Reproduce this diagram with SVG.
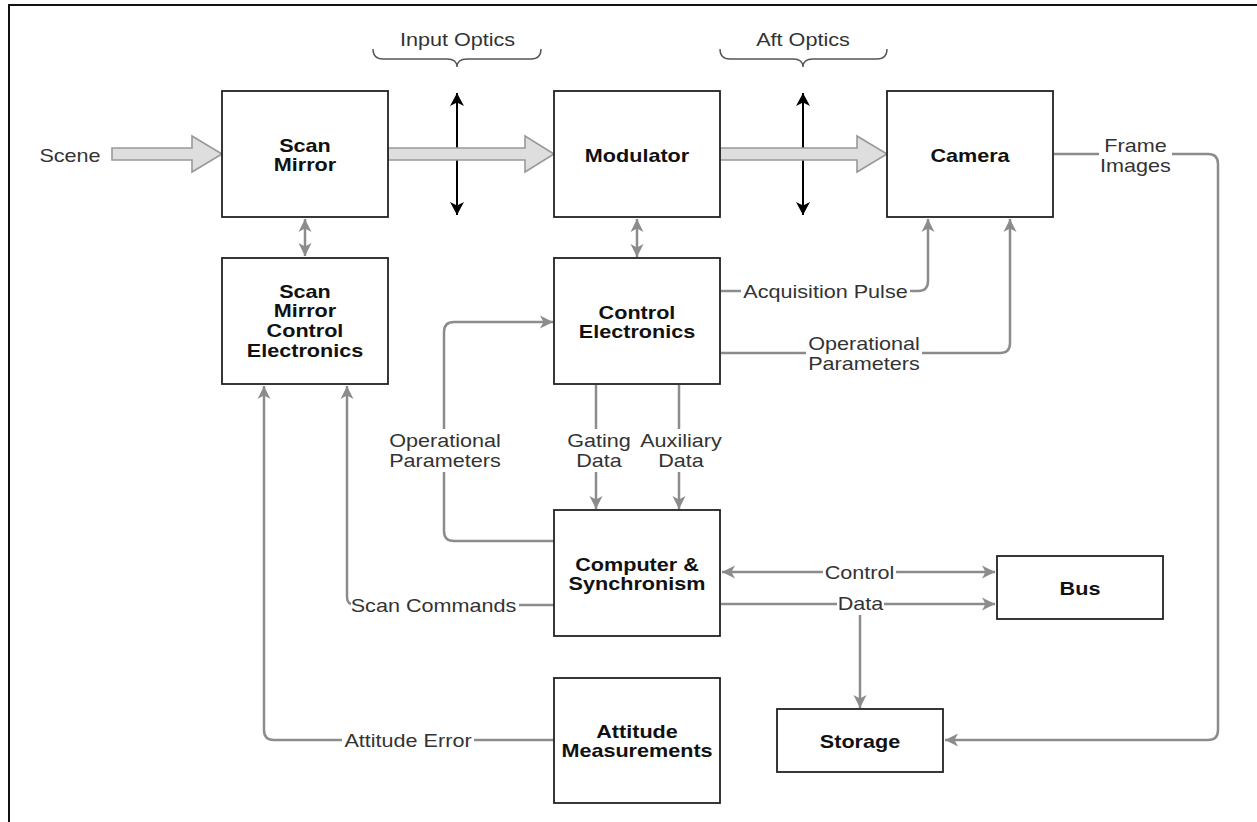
<svg xmlns="http://www.w3.org/2000/svg" width="1257" height="822" viewBox="0 0 1257 822">
<style>
text{font-family:"Liberation Sans",Arial,Helvetica,sans-serif;font-size:18px;text-anchor:middle}
.lbl{fill:#333}
.nt{font-weight:bold;fill:#111}
.box{fill:#fff;stroke:#222;stroke-width:1.8}
.edge{fill:none;stroke:#8c8c8c;stroke-width:2.5}
.wide{fill:#dedede;stroke:#999;stroke-width:1.6}
.lens{fill:none;stroke:#000;stroke-width:2}
.brace{fill:none;stroke:#555;stroke-width:1.4}
</style>
<defs>
<marker id="ga" markerUnits="userSpaceOnUse" markerWidth="16" markerHeight="16" viewBox="0 0 16 16" refX="14" refY="8" orient="auto-start-reverse">
<path d="M1,1.5 L14,8 L1,14.5 L4.5,8 z" fill="#8c8c8c"/>
</marker>
<marker id="ba" markerUnits="userSpaceOnUse" markerWidth="16" markerHeight="16" viewBox="0 0 16 16" refX="14" refY="8" orient="auto-start-reverse">
<path d="M1,1 L14,8 L1,15 L4.5,8 z" fill="#000"/>
</marker>
</defs>
<rect x="0" y="0" width="1257" height="822" fill="#fff"/>
<path d="M9,822 V5 H1257" fill="none" stroke="#111" stroke-width="2"/>

<g id="optics">
<path class="brace" d="M373,49 Q373,59 383,59 H447 Q457,59 457,67 Q457,59 467,59 H531 Q541,59 541,49"/>
<text class="lbl" transform="translate(457.5,45.5) scale(1.2,1)">Input Optics</text>
<path class="brace" d="M720,49 Q720,59 730,59 H793 Q803,59 803,67 Q803,59 813,59 H877 Q887,59 887,49"/>
<text class="lbl" transform="translate(803,45.5) scale(1.2,1)">Aft Optics</text>
<path class="lens" d="M457,93 V215" marker-start="url(#ba)" marker-end="url(#ba)"/>
<path class="lens" d="M803,93 V215" marker-start="url(#ba)" marker-end="url(#ba)"/>
</g>

<g id="scene">
<text class="lbl" transform="translate(70,161.5) scale(1.2,1)">Scene</text>
<polygon class="wide" points="112,148 192,148 192,136 222,154 192,172 192,160 112,160"/>
</g>

<g id="connectors">
<polygon class="wide" points="388,148 525,148 525,136 554,154 525,172 525,160 388,160"/>
<polygon class="wide" points="720,148 857,148 857,136 887,154 857,172 857,160 720,160"/>
<path class="edge" d="M305,219 V256" marker-start="url(#ga)" marker-end="url(#ga)"/>
<path class="edge" d="M637,219 V257" marker-start="url(#ga)" marker-end="url(#ga)"/>
<path class="edge" d="M721,291 H741"/>
<path class="edge" d="M910,291 H918 Q928,291 928,281 V219" marker-end="url(#ga)"/>
<text class="lbl" transform="translate(825.5,297.5) scale(1.2,1)">Acquisition Pulse</text>
<path class="edge" d="M721,353 H806"/>
<path class="edge" d="M922,353 H1000 Q1010,353 1010,343 V219" marker-end="url(#ga)"/>
<text class="lbl" transform="translate(864,350) scale(1.2,1)">Operational<tspan x="0" dy="20">Parameters</tspan></text>
<path class="edge" d="M554,541 H454 Q444,541 444,531 V472"/>
<path class="edge" d="M444,429 V332 Q444,322 454,322 H553" marker-end="url(#ga)"/>
<text class="lbl" transform="translate(445,447) scale(1.2,1)">Operational<tspan x="0" dy="20">Parameters</tspan></text>
<path class="edge" d="M596,385 V429"/>
<path class="edge" d="M596,472 V509" marker-end="url(#ga)"/>
<text class="lbl" transform="translate(599,447) scale(1.2,1)">Gating<tspan x="0" dy="20">Data</tspan></text>
<path class="edge" d="M679,385 V429"/>
<path class="edge" d="M679,472 V509" marker-end="url(#ga)"/>
<text class="lbl" transform="translate(681,447) scale(1.2,1)">Auxiliary<tspan x="0" dy="20">Data</tspan></text>
<path class="edge" d="M554,605 H519"/>
<path class="edge" d="M351,604 Q347,603 347,596 V386" marker-end="url(#ga)"/>
<text class="lbl" transform="translate(433.5,611.5) scale(1.2,1)">Scan Commands</text>
<path class="edge" d="M554,740 H474"/>
<path class="edge" d="M342,740 H274 Q264,740 264,730 V386" marker-end="url(#ga)"/>
<text class="lbl" transform="translate(408,746.5) scale(1.2,1)">Attitude Error</text>
<path class="edge" d="M823,572 H722" marker-end="url(#ga)"/>
<path class="edge" d="M896,572 H995" marker-end="url(#ga)"/>
<text class="lbl" transform="translate(859.5,578.5) scale(1.2,1)">Control</text>
<path class="edge" d="M721,604 H837"/>
<path class="edge" d="M884,604 H995" marker-end="url(#ga)"/>
<path class="edge" d="M860,615 V708" marker-end="url(#ga)"/>
<text class="lbl" transform="translate(860.5,610) scale(1.2,1)">Data</text>
<path class="edge" d="M1054,154 H1099"/>
<path class="edge" d="M1172,154 H1208 Q1218,154 1218,164 V730 Q1218,740 1208,740 H945" marker-end="url(#ga)"/>
<text class="lbl" transform="translate(1135.5,152) scale(1.2,1)">Frame<tspan x="0" dy="20">Images</tspan></text>
</g>

<g id="scan-mirror">
<rect class="box" x="222" y="91" width="166" height="126"/>
<text class="nt" transform="translate(305,151.5) scale(1.2,1)">Scan<tspan x="0" dy="20">Mirror</tspan></text>
</g>
<g id="modulator">
<rect class="box" x="554" y="91" width="166" height="126"/>
<text class="nt" transform="translate(637,161.5) scale(1.2,1)">Modulator</text>
</g>
<g id="camera">
<rect class="box" x="887" y="91" width="166" height="126"/>
<text class="nt" transform="translate(970,161.5) scale(1.2,1)">Camera</text>
</g>
<g id="scan-mirror-control">
<rect class="box" x="222" y="258" width="166" height="126"/>
<text class="nt" transform="translate(305,297.5) scale(1.2,1)">Scan<tspan x="0" dy="20">Mirror</tspan><tspan x="0" dy="20">Control</tspan><tspan x="0" dy="20">Electronics</tspan></text>
</g>
<g id="control-electronics">
<rect class="box" x="554" y="258" width="166" height="126"/>
<text class="nt" transform="translate(637,318.5) scale(1.2,1)">Control<tspan x="0" dy="20">Electronics</tspan></text>
</g>
<g id="computer">
<rect class="box" x="554" y="510" width="166" height="126"/>
<text class="nt" transform="translate(637,570.5) scale(1.2,1)">Computer &amp;<tspan x="0" dy="20">Synchronism</tspan></text>
</g>
<g id="attitude">
<rect class="box" x="554" y="678" width="166" height="125"/>
<text class="nt" transform="translate(637,737.5) scale(1.2,1)">Attitude<tspan x="0" dy="20">Measurements</tspan></text>
</g>
<g id="bus">
<rect class="box" x="997" y="556" width="166" height="63"/>
<text class="nt" transform="translate(1080,594.5) scale(1.2,1)">Bus</text>
</g>
<g id="storage">
<rect class="box" x="777" y="709" width="166" height="63"/>
<text class="nt" transform="translate(860,748) scale(1.2,1)">Storage</text>
</g>
</svg>
